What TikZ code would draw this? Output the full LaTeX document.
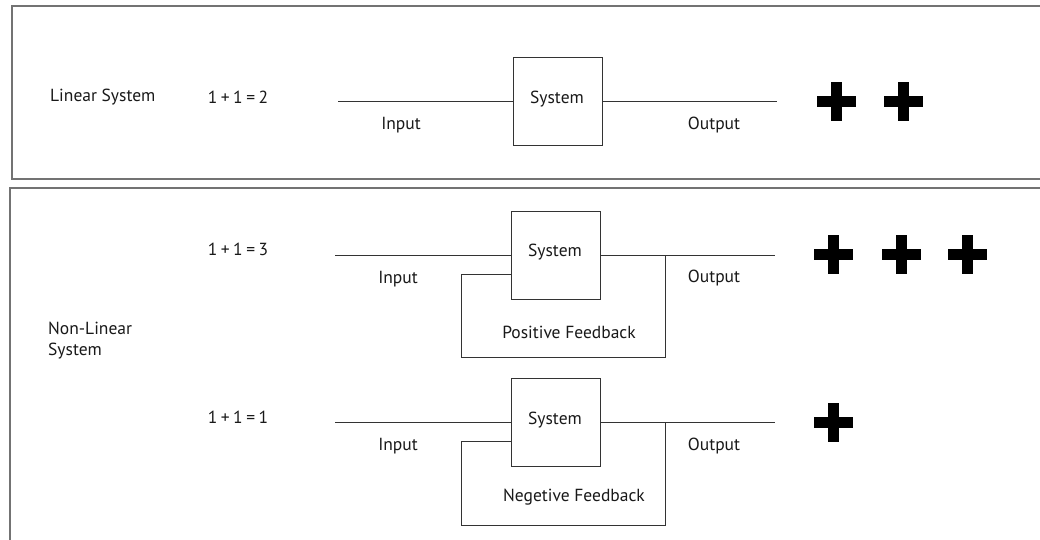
\documentclass[tikz,border=0pt]{standalone}
\usepackage{fontspec}
\setmainfont{PT Sans}
\newcommand{\eqsp}{\kern3.5pt}
\begin{document}
\begin{tikzpicture}[x=1pt,y=-1pt,
  panel/.style={draw=black!55,line width=1.4pt},
  wire/.style={draw=black!80,line width=1pt},
  sysbox/.style={draw=black!80,line width=1pt,minimum width=89pt,minimum height=88pt,inner sep=0pt},
  lbl/.style={font=\fontsize{17.5}{21}\selectfont,inner sep=0pt,text=black!90},
  plusmark/.pic={\fill[black] (-19.5,-5.5) rectangle (19.5,5.5); \fill[black] (-5.5,-19.5) rectangle (5.5,19.5);}
]
\useasboundingbox (0,0) rectangle (1040,539);
\fill[white] (0,0) rectangle (1040,539);
% panels
\draw[panel] (1041,6) -- (12,6) -- (12,179) -- (1041,179);
\draw[panel] (1041,188) -- (10,188) -- (10,540);

% ---------- Linear system ----------
\node[lbl,anchor=west] (lin) at (50,97) {Linear System};
\node[lbl] (eq1) at (238,97) {1\eqsp+\eqsp1\eqsp=\eqsp2};
\node[sysbox] (s1) at (557.5,101.5) {};
\node[lbl] (s1t) at (557,99) {System};
\coordinate (in1) at (338,101);
\coordinate (out1) at (777,101);
\draw[wire] (in1) -- (in1 -| s1.west);
\draw[wire] (s1.east |- out1) -- (out1);
\node[lbl] (i1) at (401,125) {Input};
\node[lbl] (o1) at (714,125) {Output};
\pic at (836,101) {plusmark};
\pic at (903,101) {plusmark};

% ---------- Non-linear ----------
\node[lbl,anchor=west,align=left] (nl) at (48,341) {Non-Linear\\System};

% positive feedback
\node[lbl] (eq2) at (238,249) {1\eqsp+\eqsp1\eqsp=\eqsp3};
\node[sysbox] (s2) at (555.5,255) {};
\node[lbl] (s2t) at (555,252) {System};
\coordinate (in2) at (335,255);
\coordinate (out2) at (775,255);
\coordinate (fb2a) at (665,255);
\coordinate (fb2b) at (461,274);
\draw[wire] (in2) -- (in2 -| s2.west);
\draw[wire] (s2.east |- out2) -- (out2);
\draw[wire] (fb2a) -- (fb2a |- 0,357) -- (fb2b |- 0,357) -- (fb2b) -- (fb2b -| s2.west);
\node[lbl] (i2) at (398,279) {Input};
\node[lbl] (o2) at (714,278) {Output};
\node[lbl] (pf) at (569,332) {Positive Feedback};
\pic at (833.5,254.5) {plusmark};
\pic at (901,254.5) {plusmark};
\pic at (967,254.5) {plusmark};

% negative feedback
\node[lbl] (eq3) at (238,417) {1\eqsp+\eqsp1\eqsp=\eqsp1};
\node[sysbox] (s3) at (555.5,422.5) {};
\node[lbl] (s3t) at (555,420) {System};
\coordinate (in3) at (335,422);
\coordinate (out3) at (775,422);
\coordinate (fb3a) at (665,422);
\coordinate (fb3b) at (461,441);
\draw[wire] (in3) -- (in3 -| s3.west);
\draw[wire] (s3.east |- out3) -- (out3);
\draw[wire] (fb3a) -- (fb3a |- 0,525) -- (fb3b |- 0,525) -- (fb3b) -- (fb3b -| s3.west);
\node[lbl] (i3) at (398,446) {Input};
\node[lbl] (o3) at (714,446) {Output};
\node[lbl] (nf) at (574,497) {Negetive Feedback};
\pic at (833.5,422) {plusmark};
\end{tikzpicture}
\end{document}
